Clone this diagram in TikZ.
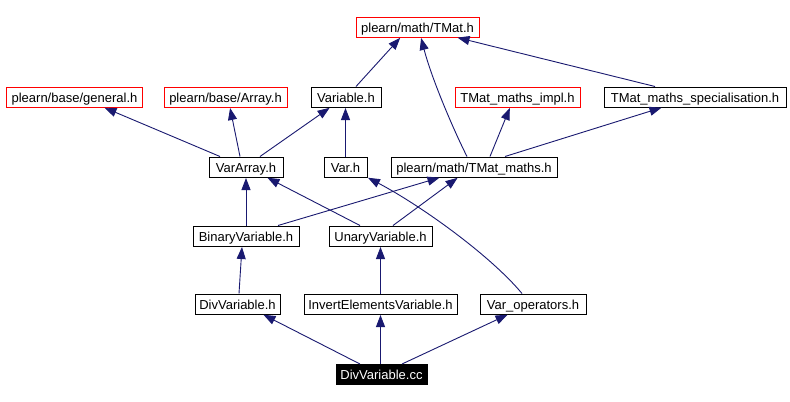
\documentclass[tikz,border=0pt]{standalone}
\usepackage{fontspec}
\setmainfont{Liberation Sans}
\usetikzlibrary{arrows.meta}
\definecolor{edgeblue}{HTML}{191970}
\begin{document}
\begin{tikzpicture}[x=1bp,y=-1bp,
  box/.style={draw=black, line width=1bp, fill=white, inner sep=0pt,
    minimum height=20bp, text height=10bp, text depth=0pt,
    font=\fontsize{13bp}{15bp}\selectfont},
  ext/.style={box, draw=red},
  cur/.style={box, fill=black, text=white, draw=black},
  dep/.style={draw=edgeblue, line width=0.9bp,
    -{Triangle[length=12bp,width=9bp]}, shorten >=0.5bp}]
\useasboundingbox[fill=white] (0,0) rectangle (790,401);

% row 1
\node[ext, minimum width=123bp] (tmat) at (417.5,27) {plearn/math/TMat.h};
% row 2
\node[ext, minimum width=135bp] (general) at (74.5,97) {plearn/base/general.h};
\node[ext, minimum width=123bp] (array) at (225.5,97) {plearn/base/Array.h};
\node[box, minimum width=70bp] (variable) at (346,97) {Variable.h};
\node[ext, minimum width=125bp] (impl) at (517.5,97) {TMat\_maths\_impl.h};
\node[box, minimum width=182bp] (spec) at (695,97) {TMat\_maths\_specialisation.h};
% row 3
\node[box, minimum width=74bp] (vararray) at (246,167) {VarArray.h};
\node[box, minimum width=43bp] (var) at (345.5,167) {Var.h};
\node[box, minimum width=166bp] (tmaths) at (474,167) {plearn/math/TMat\_maths.h};
% row 4
\node[box, minimum width=106bp] (binary) at (246,236) {BinaryVariable.h};
\node[box, minimum width=103bp] (unary) at (380.5,236) {UnaryVariable.h};
% row 5
\node[box, minimum width=85bp] (divh) at (237.5,304) {DivVariable.h};
\node[box, minimum width=153bp] (invert) at (380.5,304) {InvertElementsVariable.h};
\node[box, minimum width=106bp] (varop) at (533,304) {Var\_operators.h};
% row 6
\node[cur, minimum width=91bp] (divcc) at (381.5,374.5) {DivVariable.cc};

% edges
\draw[dep] ([xshift=10bp]variable.north) -- ([xshift=-17bp]tmat.south);
\draw[dep] ([xshift=-7bp]tmaths.north) .. controls (455,133) and (432,80) .. ([xshift=3.5bp]tmat.south);
\draw[dep] ([xshift=-40bp]spec.north) -- ([xshift=39.5bp]tmat.south);
\draw[dep] ([xshift=16bp]tmaths.north) -- ([xshift=-7.5bp]impl.south);
\draw[dep] ([xshift=31bp]tmaths.north) -- ([xshift=-33bp]spec.south);
\draw[dep] ([xshift=-26bp]vararray.north) -- ([xshift=29.5bp]general.south);
\draw[dep] ([xshift=-6bp]vararray.north) -- ([xshift=4.5bp]array.south);
\draw[dep] ([xshift=14bp]vararray.north) -- ([xshift=-16bp]variable.south);
\draw[dep] (var.north) -- (var.north |- variable.south);
\draw[dep] (binary.north) -- (vararray.south);
\draw[dep] ([xshift=-20.5bp]unary.north) -- ([xshift=21bp]vararray.south);
\draw[dep] ([xshift=32bp]binary.north) -- ([xshift=-34bp]tmaths.south);
\draw[dep] ([xshift=12.5bp]unary.north) -- ([xshift=-16bp]tmaths.south);
\draw[dep] ([xshift=-11bp]varop.north) .. controls (490,255) and (420,205) .. (var.south east);
\draw[dep] ([xshift=1.5bp]divh.north) -- ([xshift=-4bp]binary.south);
\draw[dep] (invert.north) -- (unary.south);
\draw[dep] ([xshift=-21.5bp]divcc.north) -- ([xshift=25.5bp]divh.south);
\draw[dep] ([xshift=-1bp]divcc.north) -- (invert.south);
\draw[dep] ([xshift=20.5bp]divcc.north) -- ([xshift=-25bp]varop.south);
\end{tikzpicture}
\end{document}
